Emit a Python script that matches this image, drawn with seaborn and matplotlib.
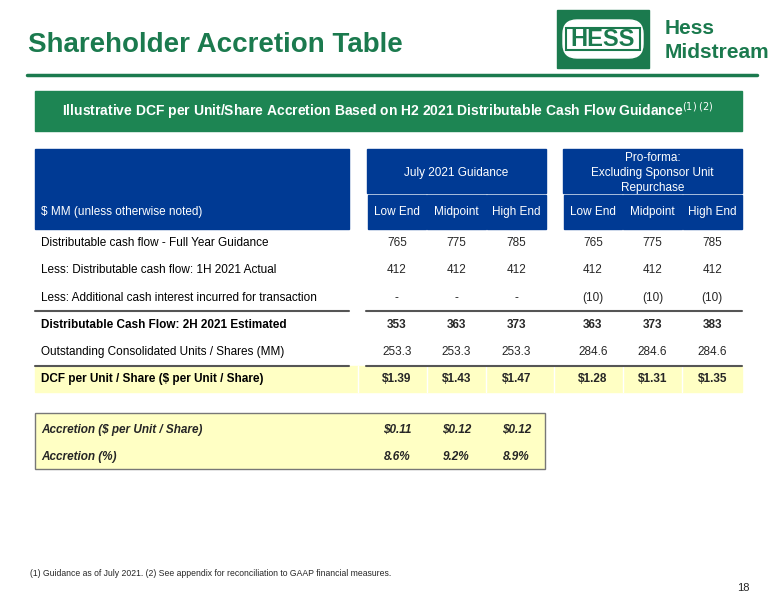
import matplotlib
matplotlib.use("Agg")
import matplotlib.pyplot as plt
import seaborn as sns
from matplotlib.patches import Rectangle, FancyBboxPatch

sns.set_style("white")
plt.rcParams['font.family'] = ['Liberation Sans', 'DejaVu Sans']

# table data
row_labels = ["Distributable cash flow - Full Year Guidance",
              "Less: Distributable cash flow: 1H 2021 Actual",
              "Less: Additional cash interest incurred for transaction",
              "Distributable Cash Flow: 2H 2021 Estimated",
              "Outstanding Consolidated Units / Shares (MM)",
              "DCF per Unit / Share ($ per Unit / Share)"]
row_bold = [False, False, False, True, False, True]
guidance_vals = [["765", "775", "785"], ["412", "412", "412"], ["-", "-", "-"],
                 ["353", "363", "373"], ["253.3", "253.3", "253.3"], ["$1.39", "$1.43", "$1.47"]]
proforma_vals = [["765", "775", "785"], ["412", "412", "412"], ["(10)", "(10)", "(10)"],
                 ["363", "373", "383"], ["284.6", "284.6", "284.6"], ["$1.28", "$1.31", "$1.35"]]
sub_headers = ["Low End", "Midpoint", "High End"]
group_headers = ["July 2021 Guidance", "Pro-forma:\nExcluding Sponsor Unit\nRepurchase"]
accretion_labels = ["Accretion ($ per Unit / Share)", "Accretion (%)"]
accretion_vals = [["$0.11", "$0.12", "$0.12"], ["8.6%", "9.2%", "8.9%"]]

GREEN = "#1b7a4e"
BANNER = "#1d8553"
BLUE = "#003a94"
YELLOW = "#ffffc4"

fig = plt.figure(figsize=(7.76, 6.0), dpi=100)
ax = fig.add_axes([0, 0, 1, 1])
ax.set_xlim(0, 776)
ax.set_ylim(600, 0)
ax.axis("off")

# title + rule
ax.text(28, 45, "Shareholder Accretion Table", color=GREEN, fontsize=20, fontweight="bold", va="center")
ax.plot([27, 757], [75, 75], color=GREEN, lw=2.5)

# logo
ax.add_patch(Rectangle((557, 10), 92, 58, color=GREEN))
ax.add_patch(FancyBboxPatch((563, 20), 80, 38, boxstyle="round,pad=0,rounding_size=14", color="white"))
ax.add_patch(Rectangle((566, 28), 74, 22, color="white", ec=GREEN, lw=1.5))
ax.text(603, 40, "HESS", color=GREEN, fontsize=17, fontweight="heavy", ha="center", va="center")
ax.text(665, 29, "Hess", color=GREEN, fontsize=15, fontweight="bold", va="center")
ax.text(665, 52, "Midstream", color=GREEN, fontsize=15, fontweight="bold", va="center")

# banner
ax.add_patch(Rectangle((35, 91), 707, 40, color=BANNER))
ax.text(388, 111, "Illustrative DCF per Unit/Share Accretion Based on H2 2021 Distributable Cash Flow Guidance$^{(1)\\ (2)}$",
        color="white", fontsize=10, fontweight="bold", ha="center", va="center")

# header blocks
ax.add_patch(Rectangle((35, 149), 314, 80, color=BLUE))
ax.text(41, 212, "$ MM (unless otherwise noted)", color="white", fontsize=8.5, va="center")
group_x = [367, 563]
col_w = 59.7
col_centers = []
for g, gx in enumerate(group_x):
    ax.add_patch(Rectangle((gx, 149), col_w * 3, 44, color=BLUE))
    ax.text(gx + col_w * 1.5, 173, group_headers[g], color="white", fontsize=8.5, ha="center", va="center",
            linespacing=1.3)
    for i, h in enumerate(sub_headers):
        x0 = gx + i * col_w
        ax.add_patch(Rectangle((x0 + 0.6, 194.5), col_w - 1.2, 34.5, color=BLUE))
        ax.text(x0 + col_w / 2, 212, h, color="white", fontsize=8.5, ha="center", va="center")
        col_centers.append(x0 + col_w / 2)

# rows
row_y = [243, 270, 298, 325, 352, 379]
ax.add_patch(Rectangle((35, 366), 707, 26, color=YELLOW))
for gx in group_x:
    ax.plot([gx - 9, gx - 9], [366, 392], color="white", lw=1)
for x in [367 + col_w, 367 + 2 * col_w, 563 + col_w, 563 + 2 * col_w]:
    ax.plot([x, x], [366, 392], color="white", lw=1)
for y in [311, 366]:
    ax.plot([35, 349], [y, y], color="#555555", lw=1.5)
    ax.plot([366, 742], [y, y], color="#555555", lw=1.5)
for r, (lab, b) in enumerate(zip(row_labels, row_bold)):
    w = "bold" if b else "normal"
    ax.text(41, row_y[r], lab, fontsize=8.5, fontweight=w, va="center", color="black")
    for c, v in enumerate(guidance_vals[r] + proforma_vals[r]):
        ax.text(col_centers[c], row_y[r], v, fontsize=8.5, fontweight=w, ha="center", va="center")

# accretion box
ax.add_patch(Rectangle((35, 413), 510, 56, facecolor=YELLOW, edgecolor="#777777", lw=1))
for r, lab in enumerate(accretion_labels):
    y = [430, 457][r]
    ax.text(41, y, lab, fontsize=8.5, fontweight="bold", style="italic", va="center")
    for c, v in enumerate(accretion_vals[r]):
        ax.text(col_centers[c], y, v, fontsize=8.5, fontweight="bold", style="italic", ha="center", va="center")

# footnote + page
ax.text(30, 574, "(1) Guidance as of July 2021. (2) See appendix for reconciliation to GAAP financial measures.",
        fontsize=6.2, va="center")
ax.text(750, 588, "18", fontsize=8, ha="right", va="center")

fig.savefig("out.png", dpi=100)
